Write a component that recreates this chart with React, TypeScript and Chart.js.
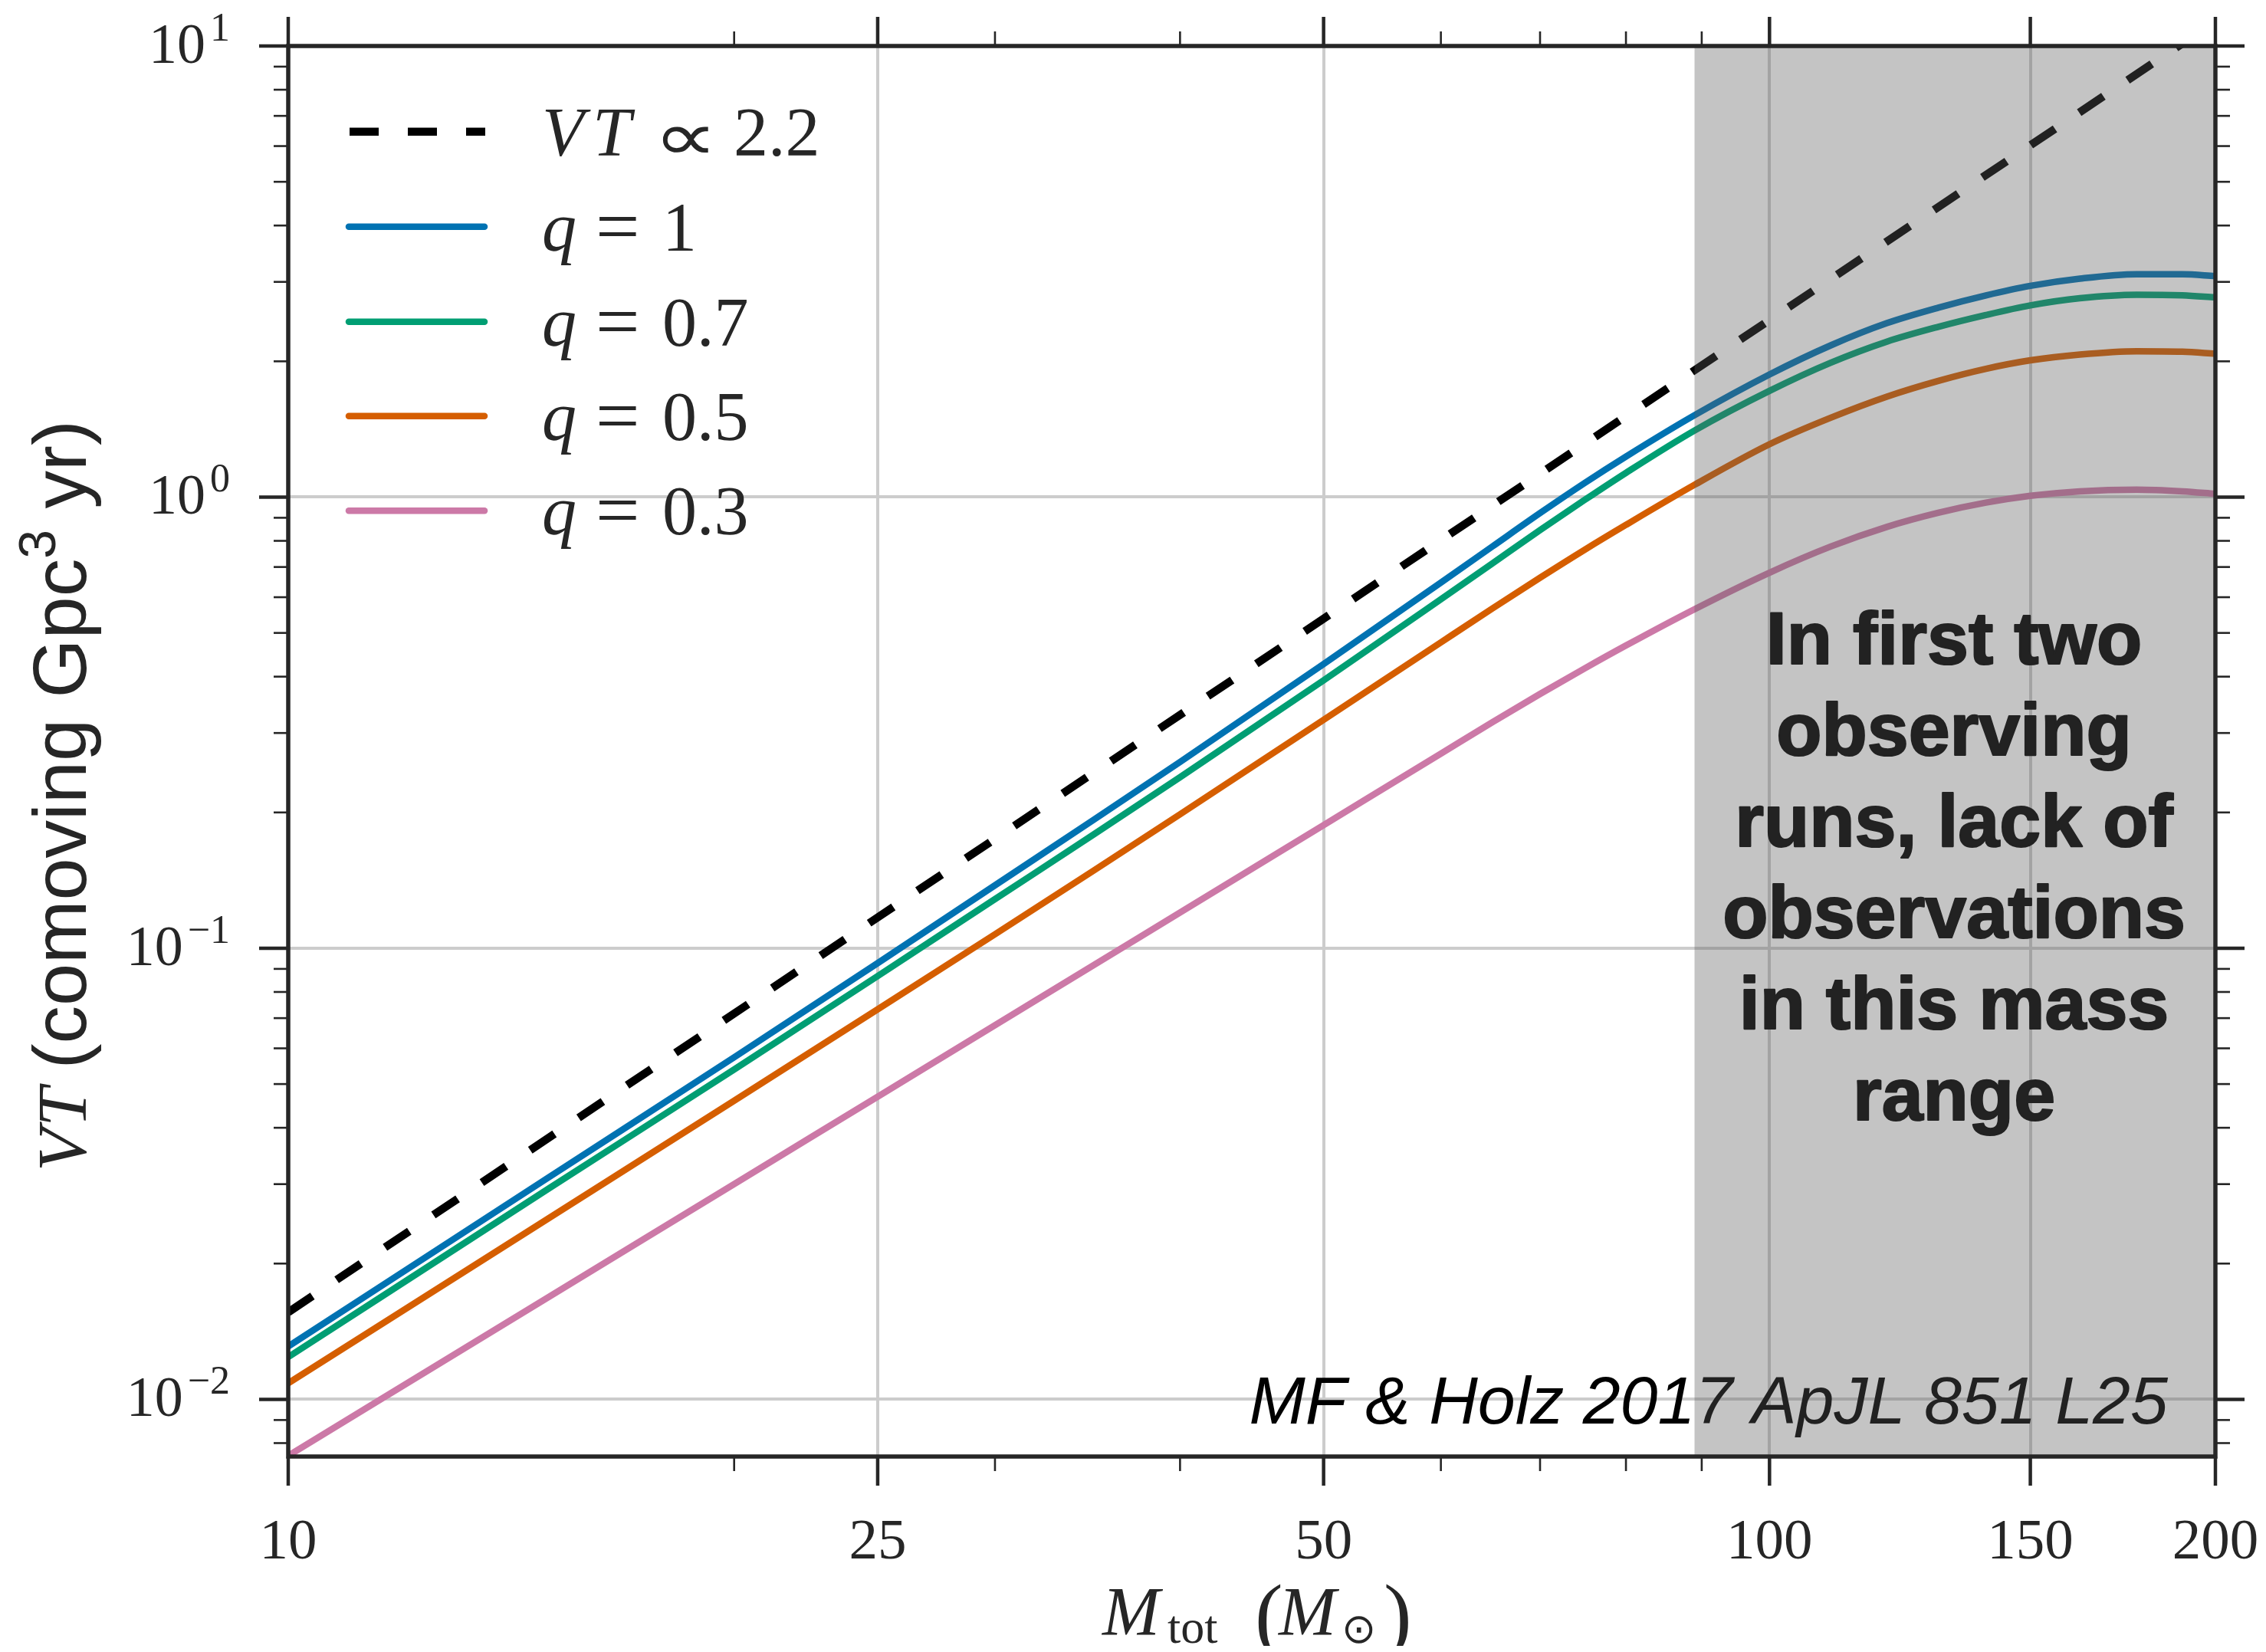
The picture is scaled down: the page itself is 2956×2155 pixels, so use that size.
import React, { useEffect, useRef } from "react";
import { Chart, registerables } from "chart.js";

Chart.register(...registerables);

// ---------- data ----------
const massGrid = [10, 15, 20, 25, 30, 35, 40, 50, 60, 65, 70, 75, 80, 89, 100, 110, 120, 130, 140, 150, 162, 177, 190, 200];
const vtQ10 = [0.0131, 0.0311, 0.0573, 0.0927, 0.1379, 0.1929, 0.2588, 0.4267, 0.6466, 0.7773, 0.9217, 1.074, 1.23, 1.519, 1.87, 2.17, 2.43, 2.63, 2.8, 2.94, 3.05, 3.12, 3.12, 3.09];
const vtQ07 = [0.01241, 0.02936, 0.05386, 0.08677, 0.1285, 0.179, 0.2394, 0.3926, 0.5936, 0.7128, 0.845, 0.985, 1.132, 1.405, 1.72, 1.986, 2.211, 2.385, 2.534, 2.661, 2.76, 2.81, 2.8, 2.77];
const vtQ05 = [0.01086, 0.02524, 0.04592, 0.07321, 0.1074, 0.1489, 0.1981, 0.3208, 0.4764, 0.5663, 0.6627, 0.7639, 0.868, 1.065, 1.31, 1.5, 1.67, 1.81, 1.925, 2.01, 2.07, 2.105, 2.1, 2.08];
const vtQ03 = [0.0075, 0.01688, 0.03, 0.04688, 0.0675, 0.0919, 0.12, 0.1875, 0.27, 0.3169, 0.3662, 0.4169, 0.4689, 0.5644, 0.6801, 0.7772, 0.859, 0.9232, 0.9723, 1.0065, 1.03, 1.039, 1.03, 1.017];
const powerLawMass = [10, 200];
const powerLawVT = [0.0156, 11.34];

const qLabels = ["1", "0.7", "0.5", "0.3"];
const seriesColors = ["#0072b2", "#009e73", "#d55e00", "#cc79a7"];

const xMin = 10;
const xMax = 200;
const yMin = 0.00747;
const yMax = 10;
const xMajorTicks = [10, 25, 50, 100, 150, 200];
const xMinorTicks = [20, 30, 40, 60, 70, 80, 90];
const xGridValues = [25, 50, 100, 150];
const yMajorTicks = [0.01, 0.1, 1, 10];
const yMajorExponents = ["\u22122", "\u22121", "0", "1"];
const yMinorTicks = [0.008, 0.009, 0.02, 0.03, 0.04, 0.05, 0.06, 0.07, 0.08, 0.09, 0.2, 0.3, 0.4, 0.5, 0.6, 0.7, 0.8, 0.9, 2, 3, 4, 5, 6, 7, 8, 9];
const yGridValues = [0.01, 0.1, 1];
const shadeFrom = 89;
const annotationLines = ["In first two", "observing", "runs, lack of", "observations", "in this mass", "range"];
const citationText = "MF & Holz 2017 ApJL 851 L25";

// ---------- style ----------
const INK = "#262626";
const SERIF = '"Liberation Serif", "DejaVu Serif", serif';
const SANS = '"Liberation Sans", Arial, sans-serif';
const SYMB = '"DejaVu Sans", sans-serif';
const W = 2940;
const H = 2147;
const BOX_H = 2139;

const toPoints = (xs: number[], ys: number[]) => xs.map((x, i) => ({ x, y: ys[i] }));

type Part = { t: string; font: string; dy?: number; dx?: number };

function runWidth(ctx: CanvasRenderingContext2D, parts: Part[]) {
  let w = 0;
  for (const p of parts) {
    ctx.font = p.font;
    w += (p.dx || 0) + ctx.measureText(p.t).width;
  }
  return w;
}

function drawRun(ctx: CanvasRenderingContext2D, parts: Part[], x: number, y: number) {
  let cx = x;
  for (const p of parts) {
    ctx.font = p.font;
    cx += p.dx || 0;
    ctx.fillText(p.t, cx, y + (p.dy || 0));
    cx += ctx.measureText(p.t).width;
  }
}

// draw a glyph fitted to a target box centred at (cx, cy)
function drawFittedGlyph(ctx: CanvasRenderingContext2D, glyph: string, font: string, cx: number, cy: number, tw: number, th: number) {
  ctx.save();
  ctx.font = font;
  ctx.textAlign = "left";
  ctx.textBaseline = "alphabetic";
  const m = ctx.measureText(glyph);
  const gw = m.actualBoundingBoxLeft + m.actualBoundingBoxRight || 1;
  const gh = m.actualBoundingBoxAscent + m.actualBoundingBoxDescent || 1;
  const gcx = (m.actualBoundingBoxRight - m.actualBoundingBoxLeft) / 2;
  const gcy = (m.actualBoundingBoxDescent - m.actualBoundingBoxAscent) / 2;
  ctx.translate(cx, cy);
  ctx.scale(tw / gw, th / gh);
  ctx.fillText(glyph, -gcx, -gcy);
  ctx.restore();
}

const overlayPlugin = {
  id: "overlay",
  afterDatasetsDraw(chart: any) {
    const ctx: CanvasRenderingContext2D = chart.ctx;
    const ca = chart.chartArea;
    const xs = chart.scales.x;
    const ys = chart.scales.y;
    ctx.save();
    ctx.textBaseline = "alphabetic";

    // citation (beneath the shaded band)
    ctx.fillStyle = "#000";
    ctx.font = `italic 88px ${SANS}`;
    ctx.textAlign = "right";
    ctx.fillText(citationText, ca.right - 62, ca.bottom - 43);

    // shaded band
    const sx = xs.getPixelForValue(shadeFrom);
    ctx.fillStyle = "rgba(91,91,91,0.36)";
    ctx.fillRect(sx, ca.top, ca.right - sx, ca.bottom - ca.top);

    // annotation
    ctx.fillStyle = "#222222";
    ctx.strokeStyle = "#222222";
    ctx.lineWidth = 2.2;
    ctx.lineJoin = "round";
    ctx.font = `bold 97px ${SANS}`;
    ctx.textAlign = "center";
    annotationLines.forEach((line, i) => {
      const ay = 858 + i * 119;
      ctx.fillText(line, ca.right - 341, ay);
      ctx.strokeText(line, ca.right - 341, ay);
    });

    // frame
    ctx.strokeStyle = INK;
    ctx.lineWidth = 5.5;
    ctx.lineJoin = "miter";
    ctx.strokeRect(ca.left, ca.top, ca.right - ca.left, ca.bottom - ca.top);

    // tick marks
    const tick = (x1: number, y1: number, x2: number, y2: number, w: number) => {
      ctx.lineWidth = w;
      ctx.beginPath();
      ctx.moveTo(x1, y1);
      ctx.lineTo(x2, y2);
      ctx.stroke();
    };
    ctx.lineCap = "butt";
    xMajorTicks.forEach((v) => {
      const p = xs.getPixelForValue(v);
      tick(p, ca.bottom, p, ca.bottom + 38, 4.5);
      tick(p, ca.top, p, ca.top - 38, 4.5);
    });
    xMinorTicks.forEach((v) => {
      const p = xs.getPixelForValue(v);
      tick(p, ca.bottom, p, ca.bottom + 19, 2.6);
      tick(p, ca.top, p, ca.top - 19, 2.6);
    });
    yMajorTicks.forEach((v) => {
      const p = ys.getPixelForValue(v);
      tick(ca.left, p, ca.left - 38, p, 4.5);
      tick(ca.right, p, ca.right + 38, p, 4.5);
    });
    yMinorTicks.forEach((v) => {
      const p = ys.getPixelForValue(v);
      tick(ca.left, p, ca.left - 19, p, 2.6);
      tick(ca.right, p, ca.right + 19, p, 2.6);
    });

    // x tick labels
    ctx.fillStyle = INK;
    ctx.font = `75px ${SERIF}`;
    ctx.textAlign = "center";
    xMajorTicks.forEach((v) => {
      ctx.fillText(String(v), xs.getPixelForValue(v), ca.bottom + 133);
    });

    // y tick labels: 10 with superscript exponent
    ctx.textAlign = "left";
    yMajorTicks.forEach((v, i) => {
      const p = ys.getPixelForValue(v);
      const exp = yMajorExponents[i];
      ctx.font = `52px ${SERIF}`;
      const ew = ctx.measureText(exp).width;
      ctx.font = `74px ${SERIF}`;
      const bw = ctx.measureText("10").width;
      const right = ca.left - 76;
      ctx.fillText("10", right - ew - bw - 6, p + 22);
      ctx.font = `52px ${SERIF}`;
      ctx.fillText(exp, right - ew, p - 7);
    });

    // x axis title
    const cx = (ca.left + ca.right) / 2;
    const B = 2125;
    const mi = `italic 90px ${SERIF}`;
    ctx.font = mi;
    ctx.fillText("M", cx - 195, B);
    ctx.font = `62px ${SERIF}`;
    ctx.fillText("tot", cx - 110, B + 10);
    ctx.font = `110px ${SERIF}`;
    ctx.fillText("(", cx + 4, B + 10);
    ctx.font = mi;
    ctx.fillText("M", cx + 35, B);
    ctx.font = `54px ${SYMB}`;
    ctx.fillText("\u2299", cx + 117, B + 10);
    ctx.font = `110px ${SERIF}`;
    ctx.fillText(")", cx + 172, B + 10);

    // y axis title (rotated), runs upward
    const yParts: Part[] = [
      { t: "V", font: `italic 92px ${SERIF}` },
      { t: "T", font: `italic 92px ${SERIF}`, dx: 2 },
      { t: "(comoving Gpc", font: `99px ${SANS}`, dx: 24 },
      { t: "3", font: `68px ${SANS}`, dy: -40 },
      { t: " yr)", font: `99px ${SANS}` },
    ];
    ctx.save();
    const cy = (ca.top + ca.bottom) / 2;
    ctx.translate(104, cy);
    ctx.rotate(-Math.PI / 2);
    const tw = runWidth(ctx, yParts);
    drawRun(ctx, yParts, -tw / 2 - 58, 0);
    ctx.restore();

    // legend
    const rows = [163.8, 287.8, 411.8, 534.8, 658.3];
    const hx0 = 443;
    const hx1 = 628;
    const tx = 699;
    ctx.strokeStyle = "#000";
    ctx.lineWidth = 10.5;
    ctx.setLineDash([38, 38]);
    ctx.lineCap = "butt";
    ctx.beginPath();
    ctx.moveTo(hx0 + 5, rows[0]);
    ctx.lineTo(hx1 - 3, rows[0]);
    ctx.stroke();
    ctx.setLineDash([]);
    ctx.fillStyle = INK;
    ctx.font = mi;
    ctx.fillText("V", tx, rows[0] + 31);
    ctx.fillText("T", tx + 66, rows[0] + 31);
    drawFittedGlyph(ctx, "\u221D", `100px ${SYMB}`, tx + 187, rows[0] + 10, 60, 34);
    ctx.fillStyle = INK;
    ctx.font = `90px ${SERIF}`;
    ctx.fillText("2.2", tx + 250, rows[0] + 31);
    qLabels.forEach((q, i) => {
      const ry = rows[i + 1];
      ctx.strokeStyle = seriesColors[i];
      ctx.lineWidth = 8.5;
      ctx.lineCap = "round";
      ctx.beginPath();
      ctx.moveTo(hx0 + 4, ry);
      ctx.lineTo(hx1 - 4, ry);
      ctx.stroke();
      ctx.fillStyle = INK;
      ctx.font = mi;
      ctx.fillText("q", tx, ry + 31);
      ctx.font = `102px ${SERIF}`;
      ctx.fillText("=", tx + 70, ry + 33);
      ctx.font = `90px ${SERIF}`;
      ctx.fillText(q, tx + 157, ry + 31);
    });

    ctx.restore();
  },
};

export default function App() {
  const ref = useRef<HTMLCanvasElement>(null);

  useEffect(() => {
    const canvas = ref.current;
    if (!canvas) return;
    const seriesValues = [vtQ10, vtQ07, vtQ05, vtQ03];
    const datasets: any[] = [
      {
        label: "VT \u221D 2.2",
        data: toPoints(powerLawMass, powerLawVT),
        borderColor: "#000000",
        borderWidth: 10.5,
        borderDash: [38, 38],
        borderCapStyle: "butt",
        pointRadius: 0,
        clip: 0,
        fill: false,
      },
      ...seriesValues.map((vals, i) => ({
        label: `q = ${qLabels[i]}`,
        data: toPoints(massGrid, vals),
        borderColor: seriesColors[i],
        borderWidth: 8.5,
        borderCapStyle: "round",
        borderJoinStyle: "round",
        cubicInterpolationMode: "monotone",
        pointRadius: 0,
        clip: 0,
        fill: false,
      })),
    ];

    const chart = new Chart(canvas, {
      type: "line",
      data: { datasets },
      options: {
        responsive: false,
        animation: false,
        devicePixelRatio: 1,
        events: [],
        layout: { padding: { left: 368, top: 52, right: 58, bottom: H - 1892 } },
        plugins: { legend: { display: false }, tooltip: { enabled: false }, title: { display: false } },
        scales: {
          x: {
            type: "logarithmic",
            min: xMin,
            max: xMax,
            afterBuildTicks: (s: any) => {
              s.ticks = xGridValues.map((v) => ({ value: v }));
            },
            afterFit: (s: any) => {
              s.height = 0;
            },
            ticks: { display: false },
            grid: { color: "#cccccc", lineWidth: 4, drawTicks: false },
            border: { display: false },
          },
          y: {
            type: "logarithmic",
            min: yMin,
            max: yMax,
            afterBuildTicks: (s: any) => {
              s.ticks = yGridValues.map((v) => ({ value: v }));
            },
            afterFit: (s: any) => {
              s.width = 0;
            },
            ticks: { display: false },
            grid: { color: "#cccccc", lineWidth: 4, drawTicks: false },
            border: { display: false },
          },
        },
      } as any,
      plugins: [overlayPlugin],
    });
    return () => chart.destroy();
  }, []);

  return (
    <div style={{ width: W, height: BOX_H, background: "#ffffff" }}>
      <canvas ref={ref} width={W} height={H} style={{ display: "block", width: W, height: H }} />
    </div>
  );
}
